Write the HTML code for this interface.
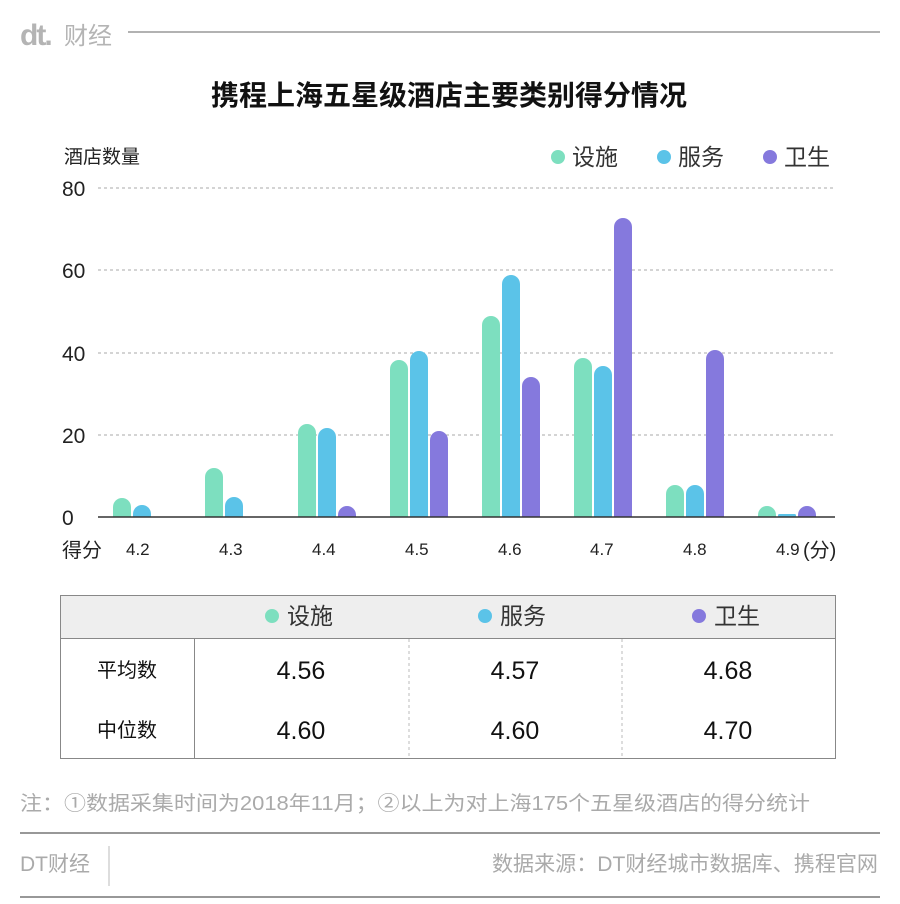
<!DOCTYPE html>
<html><head><meta charset="utf-8"><style>
body{margin:0;background:#fff;}
svg text{font-family:"Liberation Sans","Noto Sans CJK SC",sans-serif;}
</style></head><body>
<svg width="900" height="899" viewBox="0 0 900 899" xmlns="http://www.w3.org/2000/svg">
<rect width="900" height="899" fill="#fff"/>
<text x="20" y="45" font-size="30" font-weight="bold" fill="#b4b4b4" letter-spacing="-2">dt.</text>
<text x="64" y="44" font-size="24" fill="#b4b4b4">财经</text>
<line x1="128" y1="32" x2="880" y2="32" stroke="#999" stroke-width="1.5"/>
<text x="449" y="105" font-size="28" font-weight="bold" fill="#111" text-anchor="middle">携程上海五星级酒店主要类别得分情况</text>
<text x="64" y="163" font-size="19" fill="#222">酒店数量</text>
<circle cx="558" cy="157" r="7" fill="#7ddfbf"/><text x="572" y="165" font-size="23" fill="#333">设施</text>
<circle cx="664" cy="157" r="7" fill="#5bc3e8"/><text x="678" y="165" font-size="23" fill="#333">服务</text>
<circle cx="770" cy="157" r="7" fill="#8579dd"/><text x="784" y="165" font-size="23" fill="#333">卫生</text>
<g stroke="#aaa" stroke-dasharray="3,3" stroke-width="1">
<line x1="98" y1="188" x2="835" y2="188"/>
<line x1="98" y1="270" x2="835" y2="270"/>
<line x1="98" y1="353" x2="835" y2="353"/>
<line x1="98" y1="435" x2="835" y2="435"/>
</g>
<g font-size="21" fill="#222">
<text x="62" y="196">80</text><text x="62" y="278">60</text><text x="62" y="361">40</text><text x="62" y="443">20</text><text x="62" y="525">0</text>
</g>
<g>
<path d="M113 517V507a9 9 0 0 1 18 0V517Z" fill="#7ddfbf"/>
<path d="M133 517V514a9 9 0 0 1 18 0V517Z" fill="#5bc3e8"/>
<path d="M205 517V477a9 9 0 0 1 18 0V517Z" fill="#7ddfbf"/>
<path d="M225 517V506a9 9 0 0 1 18 0V517Z" fill="#5bc3e8"/>
<path d="M298 517V433a9 9 0 0 1 18 0V517Z" fill="#7ddfbf"/>
<path d="M318 517V437a9 9 0 0 1 18 0V517Z" fill="#5bc3e8"/>
<path d="M338 517V515a9 9 0 0 1 18 0V517Z" fill="#8579dd"/>
<path d="M390 517V369a9 9 0 0 1 18 0V517Z" fill="#7ddfbf"/>
<path d="M410 517V360a9 9 0 0 1 18 0V517Z" fill="#5bc3e8"/>
<path d="M430 517V440a9 9 0 0 1 18 0V517Z" fill="#8579dd"/>
<path d="M482 517V325a9 9 0 0 1 18 0V517Z" fill="#7ddfbf"/>
<path d="M502 517V284a9 9 0 0 1 18 0V517Z" fill="#5bc3e8"/>
<path d="M522 517V386a9 9 0 0 1 18 0V517Z" fill="#8579dd"/>
<path d="M574 517V367a9 9 0 0 1 18 0V517Z" fill="#7ddfbf"/>
<path d="M594 517V375a9 9 0 0 1 18 0V517Z" fill="#5bc3e8"/>
<path d="M614 517V227a9 9 0 0 1 18 0V517Z" fill="#8579dd"/>
<path d="M666 517V494a9 9 0 0 1 18 0V517Z" fill="#7ddfbf"/>
<path d="M686 517V494a9 9 0 0 1 18 0V517Z" fill="#5bc3e8"/>
<path d="M706 517V359a9 9 0 0 1 18 0V517Z" fill="#8579dd"/>
<path d="M758 517V515a9 9 0 0 1 18 0V517Z" fill="#7ddfbf"/>
<rect x="778" y="514" width="18" height="3" rx="1.5" fill="#5bc3e8"/>
<path d="M798 517V515a9 9 0 0 1 18 0V517Z" fill="#8579dd"/>
</g>
<line x1="98" y1="517" x2="835" y2="517" stroke="#333" stroke-width="1.5"/>
<g font-size="17" fill="#222">
<text x="62" y="557" font-size="20">得分</text>
<text x="126" y="555">4.2</text><text x="219" y="555">4.3</text><text x="312" y="555">4.4</text>
<text x="405" y="555">4.5</text><text x="498" y="555">4.6</text><text x="590" y="555">4.7</text>
<text x="683" y="555">4.8</text><text x="776" y="555">4.9</text><text x="803" y="557" font-size="20">(分)</text>
</g>
<rect x="60.5" y="595.5" width="775" height="43" fill="#eee" stroke="#888"/>
<rect x="60.5" y="638.5" width="775" height="120" fill="#fff" stroke="#888"/>
<line x1="194.5" y1="639" x2="194.5" y2="758" stroke="#888"/>
<line x1="409" y1="639" x2="409" y2="758" stroke="#bbb" stroke-dasharray="3,3"/>
<line x1="622" y1="639" x2="622" y2="758" stroke="#bbb" stroke-dasharray="3,3"/>
<circle cx="272" cy="616" r="7" fill="#7ddfbf"/><text x="287" y="624" font-size="23" fill="#333">设施</text>
<circle cx="485" cy="616" r="7" fill="#5bc3e8"/><text x="500" y="624" font-size="23" fill="#333">服务</text>
<circle cx="699" cy="616" r="7" fill="#8579dd"/><text x="714" y="624" font-size="23" fill="#333">卫生</text>
<g font-size="20" fill="#111" text-anchor="middle">
<text x="127" y="677">平均数</text><text x="127" y="737">中位数</text>
</g>
<g font-size="25" fill="#111" text-anchor="middle">
<text x="301" y="679">4.56</text><text x="515" y="679">4.57</text><text x="728" y="679">4.68</text>
<text x="301" y="739">4.60</text><text x="515" y="739">4.60</text><text x="728" y="739">4.70</text>
</g>
<text x="20" y="810" font-size="20" fill="#aaa" textLength="790" lengthAdjust="spacingAndGlyphs">注：①数据采集时间为2018年11月；②以上为对上海175个五星级酒店的得分统计</text>
<line x1="20" y1="833" x2="880" y2="833" stroke="#777" stroke-width="1.5"/>
<text x="20" y="871" font-size="21" fill="#aaa">DT财经</text>
<line x1="109" y1="846" x2="109" y2="886" stroke="#bbb"/>
<text x="878" y="871" font-size="21" fill="#aaa" text-anchor="end" textLength="386" lengthAdjust="spacingAndGlyphs">数据来源：DT财经城市数据库、携程官网</text>
<line x1="20" y1="897" x2="880" y2="897" stroke="#777" stroke-width="1.5"/>
</svg>
</body></html>
